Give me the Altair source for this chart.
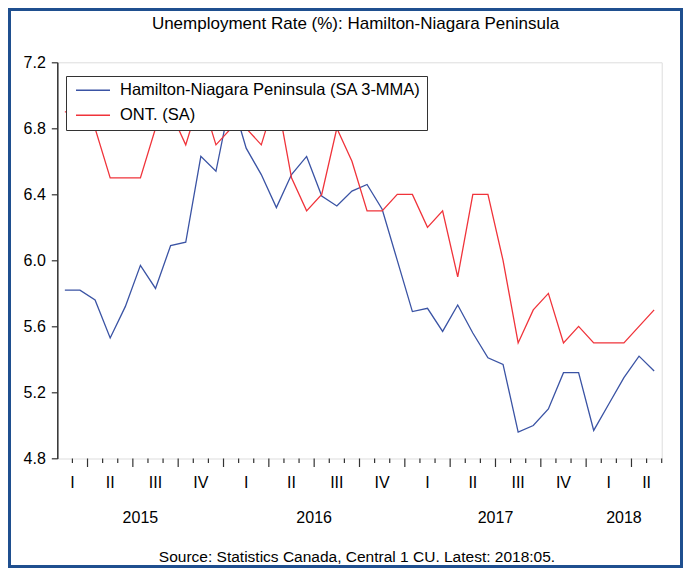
import altair as alt
import pandas as pd

# ---------------- data ----------------
months = [str(p) for p in pd.period_range("2015-02", "2018-05", freq="M")]
hamilton = [5.82, 5.82, 5.76, 5.53, 5.72, 5.97, 5.83, 6.09, 6.11, 6.63,
            6.54, 6.99, 6.68, 6.52, 6.32, 6.52, 6.63, 6.39, 6.33, 6.42,
            6.46, 6.31, 6.00, 5.69, 5.71, 5.57, 5.73, 5.56, 5.41, 5.37,
            4.96, 5.00, 5.10, 5.32, 5.32, 4.97, 5.13, 5.29, 5.42, 5.33]
ontario = [6.9, 6.9, 6.8, 6.5, 6.5, 6.5, 6.8, 6.9, 6.7, 7.0,
           6.7, 6.8, 6.8, 6.7, 7.0, 6.5, 6.3, 6.4, 6.8, 6.6,
           6.3, 6.3, 6.4, 6.4, 6.2, 6.3, 5.9, 6.4, 6.4, 6.0,
           5.5, 5.7, 5.8, 5.5, 5.6, 5.5, 5.5, 5.5, 5.6, 5.7]
series_names = ["Hamilton-Niagara Peninsula (SA 3-MMA)", "ONT. (SA)"]
quarter_names = ["I", "II", "III", "IV"]
y_ticks = [4.8, 5.2, 5.6, 6.0, 6.4, 6.8, 7.2]
title_text = "Unemployment Rate (%): Hamilton-Niagara Peninsula"
source_text = "Source: Statistics Canada, Central 1 CU. Latest: 2018:05."

# ---------------- layout / style ----------------
FONT = "Liberation Sans"
W, H = 604.4, 396.2
PAD = {"left": 49.3, "top": 54.3, "right": 21.3, "bottom": 109.5}
BLUE, RED = "#3a53a4", "#f0333a"
FRAME = "#333333"
N = len(months)

rows = []
for i, m in enumerate(months):
    rows.append({"month": m, "pos": i + 0.5, "value": hamilton[i], "series": series_names[0]})
    rows.append({"month": m, "pos": i + 0.5, "value": ontario[i], "series": series_names[1]})
df = pd.DataFrame(rows)

# quarter and year label positions: centre of each visible span (month units)
q_spans, y_spans = {}, {}
for i, m in enumerate(months):
    yr, mo = int(m[:4]), int(m[5:7])
    q = (mo - 1) // 3
    q_spans.setdefault((yr, q), [i, i + 1])[1] = i + 1
    y_spans.setdefault(yr, [i, i + 1])[1] = i + 1
qdf = pd.DataFrame([{"pos": (a + b) / 2, "label": quarter_names[q]} for (yr, q), (a, b) in q_spans.items()])
ydf = pd.DataFrame([{"pos": (a + b) / 2, "label": str(yr)} for yr, (a, b) in y_spans.items()])
# month boundaries; quarter starts get the long tick
q_starts = {a for (yr, q), (a, b) in q_spans.items()}
tdf_ticks = pd.DataFrame({"pos": list(range(1, N + 1)),
                          "major": [k in q_starts for k in range(1, N + 1)]})

x_scale = alt.Scale(domain=[0, N], nice=False, zero=False)

lines = alt.Chart(df).mark_line(strokeWidth=1.3).encode(
    x=alt.X("pos:Q", scale=x_scale,
            axis=alt.Axis(values=list(range(N + 1)), labels=False, ticks=False, title=None, grid=False,
                          domainColor=FRAME, domainWidth=1.5)),
    y=alt.Y("value:Q", scale=alt.Scale(domain=[4.8, 7.2], nice=False, zero=False),
            axis=alt.Axis(values=y_ticks, format=".1f", title=None, grid=False, tickSize=6,
                          labelPadding=6, labelFontSize=16, labelFont=FONT, labelColor="black",
                          tickColor=FRAME, tickWidth=1.2, domainColor=FRAME, domainWidth=1.5)),
    color=alt.Color("series:N", scale=alt.Scale(domain=series_names, range=[BLUE, RED]),
                    legend=alt.Legend(title=None, orient="none", legendX=8.7, legendY=13.7,
                                      symbolType="M-1,0H7", symbolSize=72.25, symbolStrokeWidth=1.3,
                                      labelOffset=31.5, labelFontSize=16.5, labelFont=FONT,
                                      labelColor="black", labelLimit=0, padding=6, rowPadding=8,
                                      strokeColor=FRAME, fillColor="white")),
    order="pos:Q",
)

minor = alt.Chart(tdf_ticks).transform_filter("!datum.major").mark_rule(color=FRAME, strokeWidth=1.2).encode(
    x=alt.X("pos:Q", scale=x_scale, axis=None), y=alt.value(H), y2=alt.value(H + 4.5))
major = alt.Chart(tdf_ticks).transform_filter("datum.major").mark_rule(color=FRAME, strokeWidth=1.2).encode(
    x=alt.X("pos:Q", scale=x_scale, axis=None), y=alt.value(H), y2=alt.value(H + 8.5))

qlab = alt.Chart(qdf).mark_text(fontSize=16, font=FONT, baseline="alphabetic", color="black").encode(
    x=alt.X("pos:Q", scale=x_scale, axis=None), y=alt.value(H + 29.5), text="label:N")
ylab = alt.Chart(ydf).mark_text(fontSize=16, font=FONT, baseline="alphabetic", color="black").encode(
    x=alt.X("pos:Q", scale=x_scale, axis=None), y=alt.value(H + 64.5), text="label:N")

tdf = pd.DataFrame({"t": [title_text]})
title = alt.Chart(tdf).mark_text(fontSize=17, font=FONT, baseline="alphabetic", color="black").encode(
    x=alt.value(W / 2 - 4), y=alt.value(-33.3), text="t:N")
sdf = pd.DataFrame({"t": [source_text]})
source = alt.Chart(sdf).mark_text(fontSize=15.5, font=FONT, baseline="alphabetic", color="black").encode(
    x=alt.value(W / 2 - 2.5), y=alt.value(H + 103), text="t:N")

frame = alt.Chart(pd.DataFrame({"a": [0]})).mark_rect(fillOpacity=0, stroke="#1f4f8f", strokeWidth=3).encode(
    x=alt.value(-PAD["left"] + 1.5), x2=alt.value(W + PAD["right"] - 1.5),
    y=alt.value(-PAD["top"] + 1.5), y2=alt.value(H + PAD["bottom"] - 1.5))

chart = alt.layer(lines, minor, major, qlab, ylab, title, source, frame).properties(
    width=W, height=H, autosize=alt.AutoSizeParams(type="none"), padding=PAD,
).configure_view(stroke=FRAME, strokeWidth=1.5).configure(background="white")

chart.save("out.html", embed_options={"renderer": "svg", "actions": False})
